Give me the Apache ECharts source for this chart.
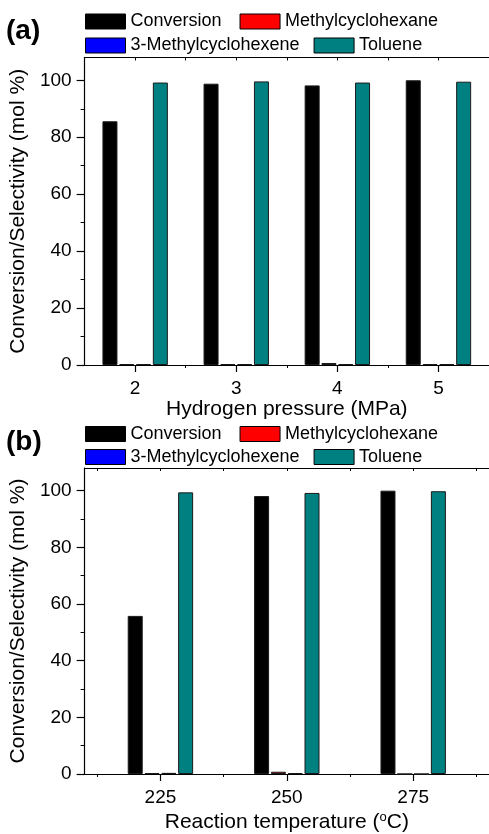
<!DOCTYPE html>
<html>
<head>
<meta charset="utf-8">
<script src="https://cdn.jsdelivr.net/npm/echarts@6/dist/echarts.min.js"></script>
<style>
  html, body { margin: 0; padding: 0; background: #fff; }
  #chart { width: 489px; height: 834px; }
</style>
</head>
<body>
<div id="chart"></div>
<script>
const seriesNames = ['Conversion', 'Methylcyclohexane', '3-Methylcyclohexene', 'Toluene'];
const seriesColors = ['#000000', '#ff0000', '#0000ff', '#008080'];

// (a) hydrogen pressure
const pressures = [2, 3, 4, 5];
const conversionA = [85.6, 98.8, 98.2, 100];
const methylcyclohexaneA = [0.3, 0.3, 0.7, 0.3];
const methylcyclohexeneA = [0.3, 0.3, 0.3, 0.3];
const tolueneA = [99.2, 99.6, 99.2, 99.5];

// (b) reaction temperature
const temperatures = [225, 250, 275];
const conversionB = [55.8, 98.1, 100];
const methylcyclohexaneB = [0.3, 0.8, 0];
const methylcyclohexeneB = [0.4, 0.3, 0];
const tolueneB = [99.4, 99.2, 99.8];

// ticks
const yTicks = [0, 20, 40, 60, 80, 100];
const yMinorTicks = [10, 30, 50, 70, 90];
const xMinorA = [2.5, 3.5, 4.5];
const xMinorB = [212.5, 237.5, 262.5, 287.5];

const FONT = 'Liberation Sans';
const chart = echarts.init(document.getElementById('chart'), null, { renderer: 'canvas' });

function axesFor(gridIndex, xMin, xMax, xMajor, xMinor, xName, nameGap) {
  const x = [
    {
      type: 'value', gridIndex: gridIndex, position: 'bottom', min: xMin, max: xMax,
      splitLine: { show: false },
      axisLine: { show: true, lineStyle: { color: '#000', width: 1.2 } },
      axisTick: { show: true, length: 7, customValues: xMajor, lineStyle: { color: '#000', width: 1.2 } },
      axisLabel: { customValues: xMajor, color: '#000', fontSize: 19, fontFamily: FONT, margin: 14 },
      name: xName, nameLocation: 'middle', nameGap: nameGap,
      nameTextStyle: {
        color: '#000', fontSize: 21, fontFamily: FONT,
        rich: { sup: { fontSize: 13, fontFamily: FONT, color: '#000', padding: [0, 0, 10, 0] } }
      }
    },
    {
      type: 'value', gridIndex: gridIndex, position: 'bottom', min: xMin, max: xMax,
      splitLine: { show: false },
      axisLine: { show: false },
      axisTick: { show: true, length: 3, customValues: xMinor, lineStyle: { color: '#000', width: 1 } },
      axisLabel: { show: false }
    },
    {
      type: 'value', gridIndex: gridIndex, position: 'top', min: xMin, max: xMax,
      splitLine: { show: false },
      axisLine: { show: true, lineStyle: { color: '#000', width: 1.2 } },
      axisTick: { show: true, inside: true, length: 3, customValues: xMajor.concat(xMinor), lineStyle: { color: '#000', width: 1 } },
      axisLabel: { show: false }
    }
  ];
  const y = [
    {
      type: 'value', gridIndex: gridIndex, position: 'left', min: 0, max: 108,
      splitLine: { show: false },
      axisLine: { show: true, lineStyle: { color: '#000', width: 1.2 } },
      axisTick: { show: true, length: 8, customValues: yTicks, lineStyle: { color: '#000', width: 1.2 } },
      axisLabel: { customValues: yTicks, color: '#000', fontSize: 19, fontFamily: FONT, margin: 13 },
      name: 'Conversion/Selectivity (mol %)', nameLocation: 'middle', nameGap: 48,
      nameTextStyle: { color: '#000', fontSize: 21, fontFamily: FONT }
    },
    {
      type: 'value', gridIndex: gridIndex, position: 'left', min: 0, max: 108,
      splitLine: { show: false },
      axisLine: { show: false },
      axisTick: { show: true, length: 4, customValues: yMinorTicks, lineStyle: { color: '#000', width: 1 } },
      axisLabel: { show: false }
    }
  ];
  return { x: x, y: y };
}

const axA = axesFor(0, 1.5, 5.5, pressures, xMinorA, 'Hydrogen pressure (MPa)', 29);
const axB = axesFor(1, 210, 290, temperatures, xMinorB, 'Reaction temperature ({sup|o}C)', 37);

function barSeries(xIndex, yIndex, xs, valueLists) {
  return valueLists.map(function (vals, i) {
    return {
      type: 'bar',
      name: seriesNames[i],
      xAxisIndex: xIndex,
      yAxisIndex: yIndex,
      barWidth: 15,
      barGap: '12%',
      itemStyle: { color: seriesColors[i], borderColor: '#1a1a1a', borderWidth: 1 },
      data: xs.map(function (x, k) { return [x, vals[k]]; })
    };
  });
}

function legendRows(top1, top2) {
  const common = {
    left: 85, padding: 0, itemWidth: 40, itemHeight: 15,
    icon: 'rect',
    itemStyle: { borderColor: '#000', borderWidth: 1 },
    textStyle: { color: '#000', fontSize: 18, fontFamily: FONT },
    selectedMode: false
  };
  return [
    Object.assign({}, common, { top: top1, itemGap: 18, data: [seriesNames[0], seriesNames[1]] }),
    Object.assign({}, common, { top: top2, itemGap: 14, data: [seriesNames[2], seriesNames[3]] })
  ];
}

const option = {
  animation: false,
  backgroundColor: '#fff',
  textStyle: { fontFamily: FONT },
  grid: [
    { left: 81, right: 0, top: 57.5, height: 307.5 },
    { left: 81, right: 0, top: 468, height: 308 }
  ],
  legend: legendRows(12.5, 36.5).concat(legendRows(425, 448)),
  xAxis: axA.x.concat(axB.x),
  yAxis: axA.y.concat(axB.y),
  series: barSeries(0, 0, pressures, [conversionA, methylcyclohexaneA, methylcyclohexeneA, tolueneA])
    .concat(barSeries(3, 2, temperatures, [conversionB, methylcyclohexaneB, methylcyclohexeneB, tolueneB])),
  graphic: [
    { type: 'text', left: 6, top: 17, style: { text: '(a)', fill: '#000', font: 'bold 28px "Liberation Sans"' } },
    { type: 'text', left: 6, top: 428, style: { text: '(b)', fill: '#000', font: 'bold 28px "Liberation Sans"' } }
  ]
};

chart.setOption(option);
</script>
</body>
</html>
